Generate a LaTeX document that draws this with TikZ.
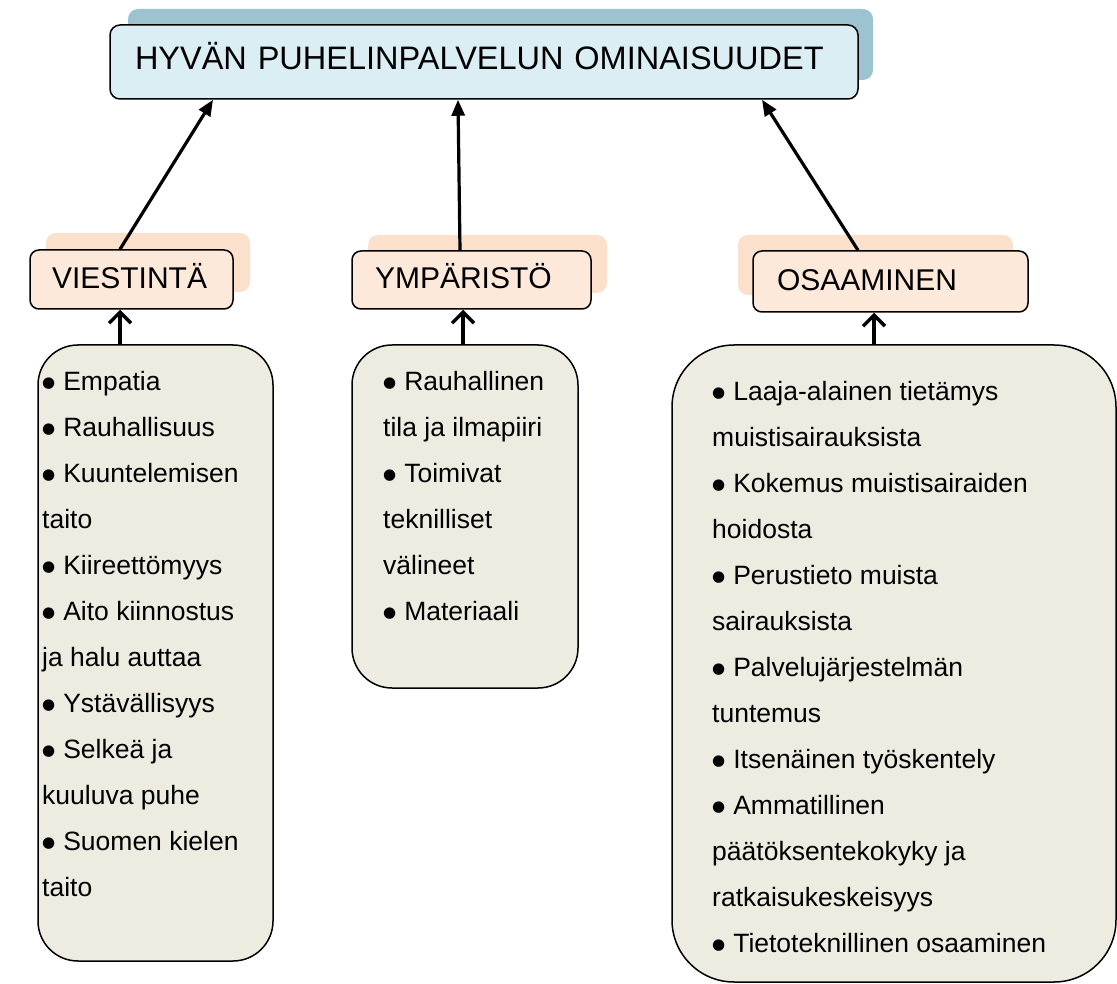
\documentclass[tikz,border=0pt]{standalone}
\usepackage{fontspec}
\setmainfont{Liberation Sans}
\newfontfamily\symbfont{DejaVu Sans}
\usepackage{tikz}
\usetikzlibrary{positioning,arrows.meta}

\definecolor{otsikkosin}{HTML}{DBEEF3}
\definecolor{otsikkovarjosin}{HTML}{9DC3D0}
\definecolor{persikka}{HTML}{FDE9D9}
\definecolor{persikkavarjo}{HTML}{FBE0CB}
\definecolor{beige}{HTML}{EEECE1}

\newcommand{\pallo}{{\symbfont\fontsize{15}{15}\selectfont\raisebox{3pt}{●}}\hspace{8pt}}

\tikzset{
  varjo/.style={fill=#1, rounded corners=10pt, inner sep=0pt},
  otsikkolaatikko/.style={draw, line width=1.5pt, rounded corners=10pt, fill=otsikkosin,
    align=left, font=\fontsize{32.5}{38}\selectfont, text height=26pt, text depth=11.5pt},
  aihelaatikko/.style={draw, line width=1.5pt, rounded corners=9pt, fill=persikka,
    align=left, font=\fontsize{30}{36}\selectfont, text height=26pt, text depth=8pt},
  listalaatikko/.style={draw, line width=1.5pt, fill=beige, inner sep=0pt},
  listateksti/.style={anchor=north west, inner sep=0pt, align=left,
    font=\fontsize{26.5}{46}\selectfont},
  ylosnuoli/.style={line width=3.2pt, -{Triangle[length=16pt,width=13pt]}},
  alanuoli/.style={line width=3.5pt, -{Straight Barb[length=11pt,width=22pt]}}
}

\begin{document}
\begin{tikzpicture}[x=1pt,y=-1pt]

\useasboundingbox (0,0) rectangle (1117,984);

\node[varjo=otsikkovarjosin, minimum width=745pt, minimum height=71pt] (otsikkovarjo) at (500.5,44.5) {};
\node[otsikkolaatikko, minimum width=748pt, minimum height=74pt, inner xsep=25pt, text width=698pt] (otsikko) at (484,62) {HYVÄN PUHELINPALVELUN OMINAISUUDET};

\node[varjo=persikkavarjo, minimum width=204pt, minimum height=59pt] (viestintavarjo) at (148,262.5) {};
\node[varjo=persikkavarjo, minimum width=239pt, minimum height=58pt] (ymparistovarjo) at (487.5,264) {};
\node[varjo=persikkavarjo, minimum width=275pt, minimum height=60pt] (osaaminenvarjo) at (875.5,265) {};

\node[aihelaatikko, minimum width=203pt, minimum height=59pt, inner xsep=22pt, text width=159pt] (viestinta) at (131.5,279.5) {VIESTINTÄ};
\node[aihelaatikko, minimum width=239pt, minimum height=58pt, inner xsep=23pt, text width=193pt] (ymparisto) at (471.5,280) {YMPÄRISTÖ};
\node[aihelaatikko, minimum width=275pt, minimum height=61pt, inner xsep=24pt, text width=227pt] (osaaminen) at (890.5,281.5) {OSAAMINEN};

\node[listalaatikko, rounded corners=40pt, minimum width=235pt, minimum height=616pt] (viestintalaatikko) at (155.5,653) {};
\node[listalaatikko, rounded corners=40pt, minimum width=226pt, minimum height=343pt] (ymparistolaatikko) at (465,516.5) {};
\node[listalaatikko, rounded corners=62pt, minimum width=444pt, minimum height=637pt] (osaaminenlaatikko) at (894,663.5) {};

\node[listateksti] (viestintalista) at (42,371) {\pallo Empatia\\
\pallo Rauhallisuus\\
\pallo Kuuntelemisen\\
taito\\
\pallo Kiireettömyys\\
\pallo Aito kiinnostus\\
ja halu auttaa\\
\pallo Ystävällisyys\\
\pallo Selkeä ja\\
kuuluva puhe\\
\pallo Suomen kielen\\
taito};

\node[listateksti] (ymparistolista) at (383,371) {\pallo Rauhallinen\\
tila ja ilmapiiri\\
\pallo Toimivat\\
teknilliset\\
välineet\\
\pallo Materiaali};

\node[listateksti] (osaaminenlista) at (712,381) {\pallo Laaja-alainen tietämys\\
muistisairauksista\\
\pallo Kokemus muistisairaiden\\
hoidosta\\
\pallo Perustieto muista\\
sairauksista\\
\pallo Palvelujärjestelmän\\
tuntemus\\
\pallo Itsenäinen työskentely\\
\pallo Ammatillinen\\
päätöksentekokyky ja\\
ratkaisukeskeisyys\\
\pallo Tietoteknillinen osaaminen};

\draw[ylosnuoli] ([xshift=-11.5pt]viestinta.north) -- ([xshift=-271pt]otsikko.south);
\draw[ylosnuoli] ([xshift=-11.5pt]ymparisto.north) -- ([xshift=-26pt]otsikko.south);
\draw[ylosnuoli] ([xshift=-32.5pt]osaaminen.north) -- ([xshift=278pt]otsikko.south);

\draw[alanuoli] ([xshift=-35.5pt]viestintalaatikko.north) -- ([xshift=-11.5pt]viestinta.south);
\draw[alanuoli] ([xshift=-2pt]ymparistolaatikko.north) -- ([xshift=-8.5pt]ymparisto.south);
\draw[alanuoli] ([xshift=-20pt]osaaminenlaatikko.north) -- ([xshift=-16.5pt]osaaminen.south);

\end{tikzpicture}
\end{document}
